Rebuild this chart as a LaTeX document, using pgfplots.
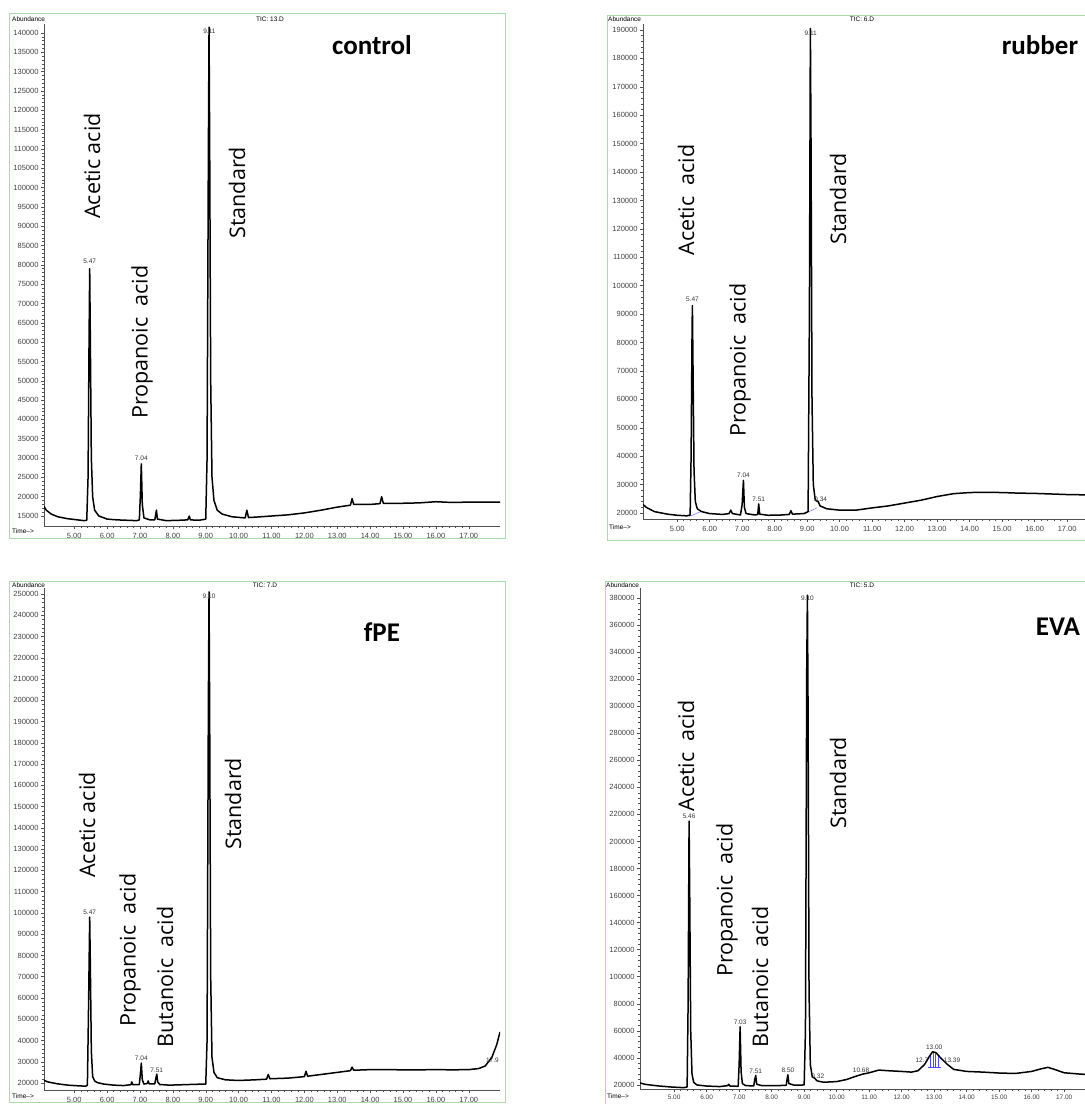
\documentclass[border=0pt]{standalone}
\usepackage{pgfplots}
\pgfplotsset{compat=1.18}
\usepackage{fontspec}
\setmainfont{Liberation Sans}
\newfontfamily\annot{Open Sans}
\newfontfamily\titlefont{Carlito}
\definecolor{framegreen}{HTML}{A9DCA9}
\definecolor{axgray}{HTML}{505050}
\tikzset{pk/.style={font=\fontsize{6.5}{7}\selectfont, text=black!80, inner sep=1pt, anchor=south}}
\pgfplotsset{
  chrom/.style={
    scale only axis,
    axis lines*=left,
    axis line style={draw=axgray, line width=0.7pt},
    tick style={draw=axgray, line width=0.5pt},
    major tick length=3pt, minor tick length=2pt,
    tick align=outside,
    minor x tick num=4, minor y tick num=4,
    xtick={5,6,...,17},
    xticklabels={5.00,6.00,7.00,8.00,9.00,10.00,11.00,12.00,13.00,14.00,15.00,16.00,17.00},
    scaled y ticks=false,
    tick label style={font=\fontsize{7.5}{8}\selectfont, text=black!75},
    xticklabel style={yshift=-1pt},
    yticklabel style={xshift=1pt},
    clip mode=individual,
  },
  trace/.style={black, line width=1.5pt, line join=round},
}
\newcommand{\ann}[4]{\node[rotate=90, font=\annot\fontsize{21.5}{24}\selectfont] at (#1pt,-#2pt) {#3#4};}
\newcommand{\ttl}[3]{\node[font=\titlefont\bfseries\fontsize{27}{30}\selectfont] at (#1pt,-#2pt) {#3};}
\begin{document}
\begin{tikzpicture}
\useasboundingbox (0pt,0pt) rectangle (1085pt,-1104pt);
\clip (0pt,0pt) rectangle (1085pt,-1104pt);
% frames
\draw[framegreen, line width=1pt] (9pt,-13pt) rectangle (505pt,-538pt);
\draw[framegreen, line width=1pt] (607pt,-15pt) rectangle (1095pt,-540pt);
\draw[framegreen, line width=1pt] (9pt,-581pt) rectangle (505pt,-1102pt);
\draw[framegreen, line width=1pt] (605pt,-581pt) rectangle (1095pt,-1110pt);

% ---------------- control ----------------
\begin{axis}[chrom, at={(44pt,-526pt)}, anchor=south west,
  width=456pt, height=502pt,
  xmin=4.08, xmax=17.95, ymin=12412, ymax=142329,
  ytick={15000,20000,...,140000},
  yticklabels={15000,20000,25000,30000,35000,40000,45000,50000,55000,60000,65000,70000,75000,80000,85000,90000,95000,100000,105000,110000,115000,120000,125000,130000,135000,140000}]
\addplot[trace] coordinates {
(4.08,17500)(4.15,16500)(4.3,15500)(4.5,14800)(4.8,14300)(5.1,14000)(5.3,13800)(5.38,13900)
(5.42,25000)(5.45,60000)(5.47,79000)(5.49,60000)(5.52,30000)(5.56,20000)(5.62,16500)(5.75,15000)
(6.0,14200)(6.3,14000)(6.6,13900)(6.9,13800)(6.98,14000)(7.01,20000)(7.04,28500)(7.07,18000)
(7.12,14500)(7.3,14000)(7.45,14000)(7.50,16500)(7.53,14200)(7.8,13800)(8.2,13900)(8.45,14000)
(8.5,15000)(8.53,14000)(8.8,13900)(9.0,14200)(9.04,30000)(9.08,110000)(9.10,141500)(9.12,110000)
(9.15,50000)(9.19,25000)(9.25,19000)(9.35,16500)(9.5,15500)(9.8,14800)(10.2,14500)(10.25,16500)(10.3,14600)
(10.5,14700)(11.0,15000)(11.5,15300)(12.0,15800)(12.5,16500)(13.0,17300)(13.4,17800)(13.45,19500)
(13.5,18000)(14.0,18000)(14.3,18200)(14.35,20000)(14.4,18300)(15.0,18300)(15.5,18400)(16.0,18700)
(16.5,18500)(17.0,18600)(17.95,18600)};
\node[pk] at (axis cs:5.47,80000) {5.47};
\node[pk] at (axis cs:7.04,29000) {7.04};
\node[pk] at (axis cs:9.11,139500) {9.11};
\end{axis}
\node[font=\fontsize{6.5}{7}\selectfont, anchor=south west, inner sep=0pt] at (12pt,-22pt) {Abundance};
\node[font=\fontsize{6.5}{7}\selectfont, inner sep=0pt] at (270pt,-19pt) {TIC: 13.D};
\node[font=\fontsize{6.5}{7}\selectfont, anchor=west, inner sep=0pt] at (12pt,-531pt) {Time-->};
\ann{92}{166}{Acetic acid}{}
\ann{142}{342}{Propanoic\ \ acid}{}
\ann{237}{193}{Standard}{}
\ttl{372}{45}{control}

% ---------------- rubber ----------------
\begin{axis}[chrom, at={(643pt,-519pt)}, anchor=south west,
  width=442pt, height=495pt,
  xmin=3.95, xmax=17.55, ymin=17888, ymax=192112,
  ytick={20000,30000,...,190000},
  yticklabels={20000,30000,40000,50000,60000,70000,80000,90000,100000,110000,120000,130000,140000,150000,160000,170000,180000,190000}]
\addplot[blue!60, line width=0.5pt] coordinates {(5.38,18800)(5.75,20600)};
\addplot[blue!60, line width=0.5pt] coordinates {(8.9,19600)(9.3,21800)};
\addplot[trace] coordinates {
(3.95,23000)(4.05,22000)(4.3,20500)(4.7,19600)(5.0,19200)(5.3,19000)(5.40,19300)(5.43,40000)
(5.46,85000)(5.47,93000)(5.49,70000)(5.52,35000)(5.56,24000)(5.62,21500)(5.75,20500)(6.0,19800)
(6.4,19500)(6.6,19800)(6.65,21000)(6.7,19800)(6.95,19300)(7.0,23000)(7.04,31500)(7.07,22000)
(7.12,19800)(7.4,19300)(7.48,19500)(7.51,23200)(7.54,19600)(7.8,19200)(8.2,19300)(8.45,19500)
(8.5,20800)(8.55,19600)(8.9,19800)(9.03,20500)(9.07,90000)(9.10,190500)(9.12,150000)(9.15,60000)
(9.19,30000)(9.25,24500)(9.34,24000)(9.4,22500)(9.6,21500)(10.0,21000)(10.5,21000)(11.0,21800)
(11.5,22500)(12.0,23500)(12.5,24500)(13.0,25800)(13.5,26800)(14.0,27200)(14.5,27300)(15.0,27200)
(15.5,27000)(16.0,26900)(16.5,26700)(17.0,26500)(17.5,26400)(18.0,26300)};
\node[pk] at (axis cs:5.47,94000) {5.47};
\node[pk] at (axis cs:7.04,32000) {7.04};
\node[pk] at (axis cs:7.51,23500) {7.51};
\node[pk] at (axis cs:9.42,23500) {9.34};
\node[pk] at (axis cs:9.11,187500) {9.11};
\end{axis}
\node[font=\fontsize{6.5}{7}\selectfont, anchor=south west, inner sep=0pt] at (608pt,-22pt) {Abundance};
\node[font=\fontsize{6.5}{7}\selectfont, inner sep=0pt] at (862pt,-19pt) {TIC: 6.D};
\node[font=\fontsize{6.5}{7}\selectfont, anchor=west, inner sep=0pt] at (609pt,-527pt) {Time-->};
\ann{686}{200}{Acetic\ \ acid}{}
\ann{740}{360}{Propanoic\ \ acid}{}
\ann{838}{199}{Standard}{}
\ttl{1040}{45}{rubber}

% ---------------- fPE ----------------
\begin{axis}[chrom, at={(44pt,-1090pt)}, anchor=south west,
  width=456pt, height=502pt,
  xmin=4.08, xmax=17.95, ymin=16708, ymax=252822,
  ytick={20000,30000,...,250000},
  yticklabels={20000,30000,40000,50000,60000,70000,80000,90000,100000,110000,120000,130000,140000,150000,160000,170000,180000,190000,200000,210000,220000,230000,240000,250000}]
\addplot[trace] coordinates {
(4.08,21300)(4.2,20500)(4.5,19600)(4.8,19000)(5.1,18700)(5.35,18500)(5.40,19000)(5.43,50000)
(5.47,98000)(5.49,75000)(5.52,35000)(5.56,23000)(5.62,21000)(5.7,20200)(5.9,19500)(6.2,19000)
(6.5,18800)(6.72,19200)(6.75,20500)(6.78,19200)(6.98,19300)(7.01,24000)(7.04,29400)(7.07,21500)
(7.12,19500)(7.22,19800)(7.25,21000)(7.28,19600)(7.45,19600)(7.48,22000)(7.51,24200)(7.54,20500)
(7.6,19300)(7.9,19000)(8.3,19200)(8.7,19400)(9.0,19500)(9.04,40000)(9.08,200000)(9.10,251000)
(9.12,190000)(9.15,70000)(9.19,32000)(9.25,25000)(9.35,22500)(9.6,21500)(10.0,21200)(10.5,21500)
(10.85,21800)(10.9,24000)(10.95,22000)(11.5,22300)(12.0,23000)(12.05,25500)(12.1,23200)(12.5,24000)
(13.0,25000)(13.4,25800)(13.45,27500)(13.5,26000)(14.0,26300)(14.5,26300)(15.0,26200)(15.5,26200)
(16.0,26300)(16.5,26200)(17.0,26300)(17.3,26800)(17.5,28000)(17.7,32000)(17.85,38000)(17.95,44000)};
\node[pk] at (axis cs:5.47,98500) {5.47};
\node[pk] at (axis cs:7.04,30000) {7.04};
\node[pk] at (axis cs:7.51,24500) {7.51};
\node[pk] at (axis cs:9.10,247500) {9.10};
\node[pk] at (axis cs:17.72,29000) {17.9};
\end{axis}
\node[font=\fontsize{6.5}{7}\selectfont, anchor=south west, inner sep=0pt] at (12pt,-588pt) {Abundance};
\node[font=\fontsize{6.5}{7}\selectfont, inner sep=0pt] at (265pt,-585pt) {TIC: 7.D};
\node[font=\fontsize{6.5}{7}\selectfont, anchor=west, inner sep=0pt] at (12pt,-1096pt) {Time-->};
\ann{87}{825}{Acetic acid}{}
\ann{130}{950}{Propanoic\ \ acid}{}
\ann{165}{977}{Butanoic\ \ acid}{}
\ann{233}{804}{Standard}{}
\ttl{382}{632}{fPE}

% ---------------- EVA ----------------
\begin{axis}[chrom, at={(640pt,-1089pt)}, anchor=south west,
  width=445pt, height=501pt,
  xmin=3.95, xmax=17.64, ymin=17000, ymax=387347,
  ytick={20000,40000,...,380000},
  yticklabels={20000,40000,60000,80000,100000,120000,140000,160000,180000,200000,220000,240000,260000,280000,300000,320000,340000,360000,380000},
  xticklabel style={font=\fontsize{6.5}{7}\selectfont, yshift=2pt}]
\addplot[blue!70, line width=0.6pt] coordinates {(12.88,33000)(12.88,43000)};
\addplot[blue!70, line width=0.6pt] coordinates {(12.96,33000)(12.96,44500)};
\addplot[blue!70, line width=0.6pt] coordinates {(13.04,33000)(13.04,44000)};
\addplot[blue!70, line width=0.6pt] coordinates {(13.12,33000)(13.12,42000)};
\addplot[blue!70, line width=0.6pt] coordinates {(12.8,33000)(13.2,33000)};
\addplot[trace] coordinates {
(3.95,21500)(4.1,20500)(4.5,19300)(4.9,18500)(5.3,18000)(5.40,18500)(5.43,80000)(5.45,170000)
(5.46,215000)(5.48,160000)(5.51,60000)(5.55,28000)(5.6,22000)(5.7,20000)(6.0,19200)(6.4,18800)
(6.65,19500)(6.68,20500)(6.72,19200)(6.97,19000)(7.0,35000)(7.03,63000)(7.06,30000)(7.1,21000)
(7.2,19500)(7.45,19300)(7.48,24000)(7.51,27000)(7.54,20500)(7.7,19500)(8.2,19500)(8.45,19800)
(8.48,25000)(8.50,27500)(8.53,21000)(8.7,19800)(9.0,20000)(9.04,60000)(9.08,330000)(9.10,382000)
(9.12,300000)(9.15,90000)(9.19,35000)(9.25,26000)(9.32,25000)(9.4,23000)(9.6,22000)(10.0,22500)
(10.3,24000)(10.6,26500)(10.8,28000)(11.0,29000)(11.3,31000)(11.6,30500)(12.0,30000)(12.3,29500)
(12.5,30500)(12.7,35000)(12.85,41000)(12.95,44500)(13.05,44000)(13.2,40000)(13.39,35500)(13.6,31500)
(14.0,30000)(14.5,29500)(15.0,28800)(15.5,28500)(16.0,30000)(16.3,32000)(16.5,33000)(16.7,31500)
(17.0,29000)(17.5,28000)(18.0,27500)};
\node[pk] at (axis cs:5.46,216000) {5.46};
\node[pk] at (axis cs:7.03,63500) {7.03};
\node[pk] at (axis cs:7.51,27500) {7.51};
\node[pk] at (axis cs:8.50,28000) {8.50};
\node[pk] at (axis cs:9.42,23500) {9.32};
\node[pk] at (axis cs:9.10,377000) {9.10};
\node[pk] at (axis cs:10.75,28500) {10.68};
\node[pk] at (axis cs:12.62,35500) {12.7};
\node[pk] at (axis cs:13.0,45000) {13.00};
\node[pk] at (axis cs:13.55,35500) {13.39};
\end{axis}
\node[font=\fontsize{6.5}{7}\selectfont, anchor=south west, inner sep=0pt] at (606pt,-588pt) {Abundance};
\node[font=\fontsize{6.5}{7}\selectfont, inner sep=0pt] at (862pt,-585pt) {TIC: 5.D};
\node[font=\fontsize{6.5}{7}\selectfont, anchor=west, inner sep=0pt] at (607pt,-1096pt) {Time-->};
\ann{686}{756}{Acetic\ \ acid}{}
\ann{727}{900}{Propanoic\ \ acid}{}
\ann{760}{977}{Butanoic\ \ acid}{}
\ann{838}{783}{Standard}{}
\ttl{1058}{627}{EVA}
\end{tikzpicture}
\end{document}
